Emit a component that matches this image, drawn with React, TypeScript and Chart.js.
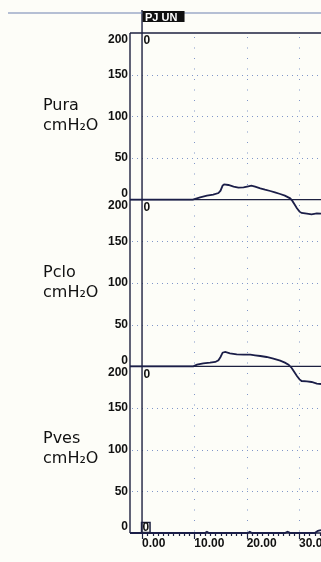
import { useEffect, useRef } from 'react';
import { Chart, registerables } from 'chart.js';

Chart.register(...registerables);

// ---- data ----
const panelNames = ['Pura', 'Pclo', 'Pves'];
const unitLabel = 'cmH₂O';
const channelTag = 'PJ UN';
const xMin = -2.3;
const xMax = 34.2;
const yMin = 0;
const yMax = 200;
const yStep = 50;
const xStep = 10;

const puraTime = [-2.3, 9.7, 11.1, 12.4, 13.6, 14.6, 15.0, 15.4, 15.7, 16.5, 17.5, 18.4, 19.4, 20.3, 20.9, 21.6, 22.6, 23.5, 24.5, 25.4, 26.4, 27.3, 28.3, 28.7, 29.1, 29.6, 30.1, 30.5, 31.5, 32.4, 33.4, 34.2];
const puraValues = [0, 0, 2.8, 4.8, 6.0, 8.0, 10.8, 16.8, 18.4, 17.6, 15.6, 14.4, 14.8, 16.0, 16.8, 15.6, 13.6, 12.0, 10.4, 8.8, 6.8, 4.8, 1.6, -1.2, -5.2, -10.4, -14.4, -16.0, -16.8, -17.6, -16.4, -16.8];

const pcloTime = [-2.3, 9.8, 10.5, 11.7, 13.0, 14.0, 14.6, 15.0, 15.4, 15.9, 16.8, 18.1, 19.4, 20.7, 21.6, 22.6, 23.8, 25.1, 26.4, 27.3, 28.0, 28.6, 29.1, 29.6, 30.1, 30.5, 31.5, 32.4, 33.4, 34.2];
const pcloValues = [0, 0, 2.0, 3.6, 4.4, 5.2, 7.2, 11.2, 16.4, 17.2, 15.6, 14.4, 14.0, 14.0, 13.2, 12.4, 11.2, 9.2, 6.8, 4.4, 2.0, -2.0, -6.8, -11.6, -15.6, -17.6, -18.0, -18.8, -20.8, -21.2];

const pvesTime = [-2.3, 12.0, 12.4, 12.8, 20.2, 20.6, 21.0, 27.3, 27.8, 28.4, 33.0, 33.6, 34.2];
const pvesValues = [0, 0, 1.5, 0, 0, 1.5, 0, 0, 1.5, 0, 0, 2.5, 3.5];

// ---- styles ----
const BG = '#fdfdf8';
const AXIS = '#1d2040';
const TRACE = '#1b1e48';
const DOTS = '#8196c8';
const TEXT = '#111111';
const TICK_FONT = 'bold 12px "Liberation Sans", Arial, sans-serif';
const NAME_FONT = '16px "DejaVu Sans", sans-serif';

const toPoints = (xs: number[], ys: number[]) => xs.map((x, i) => ({ x, y: ys[i] }));

const decorPlugin = {
  id: 'decor',
  beforeDatasetsDraw(chart: any) {
    const ctx = chart.ctx as CanvasRenderingContext2D;
    const area = chart.chartArea;
    const xs = chart.scales.x;
    const panels = [chart.scales.yUra, chart.scales.yClo, chart.scales.yVes];
    ctx.save();
    // dotted grid
    ctx.strokeStyle = DOTS;
    ctx.lineWidth = 1;
    ctx.setLineDash([1, 4]);
    panels.forEach((ys: any) => {
      ys.ticks.forEach((t: any) => {
        if (t.value === yMin || t.value === yMax) return;
        const py = Math.round(ys.getPixelForValue(t.value)) + 0.5;
        ctx.beginPath();
        ctx.moveTo(area.left + 2, py);
        ctx.lineTo(area.right, py);
        ctx.stroke();
      });
    });
    ctx.setLineDash([1, 9.5]);
    xs.ticks.forEach((t: any) => {
      if (t.value === 0) return;
      const px = Math.round(xs.getPixelForValue(t.value)) + 0.5;
      ctx.beginPath();
      ctx.moveTo(px, area.top + 4);
      ctx.lineTo(px, area.bottom);
      ctx.stroke();
    });
    ctx.setLineDash([]);
    // solid lines
    ctx.strokeStyle = AXIS;
    ctx.lineWidth = 1.4;
    const hline = (py: number) => {
      ctx.beginPath();
      ctx.moveTo(area.left, py);
      ctx.lineTo(area.right, py);
      ctx.stroke();
    };
    hline(panels[0].getPixelForValue(yMax));
    panels.forEach((ys: any) => hline(ys.getPixelForValue(0)));
    ctx.beginPath();
    ctx.moveTo(area.left, area.top);
    ctx.lineTo(area.left, area.bottom);
    ctx.stroke();
    const x0 = xs.getPixelForValue(0);
    ctx.beginPath();
    ctx.moveTo(x0, 10);
    ctx.lineTo(x0, area.bottom);
    ctx.stroke();
    // x ticks (minor every unit, major every 10)
    ctx.lineWidth = 1.2;
    for (let v = 0; v <= Math.floor(xMax); v++) {
      const px = Math.round(xs.getPixelForValue(v)) + 0.5;
      const len = v % xStep === 0 ? 6 : 3;
      ctx.beginPath();
      ctx.moveTo(px, area.bottom);
      ctx.lineTo(px, area.bottom + len);
      ctx.stroke();
    }
    ctx.restore();
  },
  afterDraw(chart: any) {
    const ctx = chart.ctx as CanvasRenderingContext2D;
    const area = chart.chartArea;
    const xs = chart.scales.x;
    const panels = [chart.scales.yUra, chart.scales.yClo, chart.scales.yVes];
    const x0 = xs.getPixelForValue(0);
    ctx.save();
    // scan line at the top
    ctx.strokeStyle = 'rgba(110,130,175,0.5)';
    ctx.lineWidth = 2;
    ctx.beginPath();
    ctx.moveTo(8, 13);
    ctx.lineTo(321, 13);
    ctx.stroke();
    // channel tag
    ctx.fillStyle = '#111';
    ctx.fillRect(x0 + 0.5, 11, 42, 11);
    ctx.save();
    ctx.beginPath();
    ctx.rect(x0 + 0.5, 11, 42, 11);
    ctx.clip();
    ctx.fillStyle = '#ffffff';
    ctx.font = 'bold 11px "Liberation Sans", Arial, sans-serif';
    ctx.textAlign = 'left';
    ctx.textBaseline = 'alphabetic';
    ctx.fillText(channelTag, x0 + 3, 21);
    ctx.restore();

    ctx.fillStyle = TEXT;
    panels.forEach((ys: any, i: number) => {
      const top = ys.getPixelForValue(yMax);
      const bottom = ys.getPixelForValue(yMin);
      // y tick labels
      ctx.font = TICK_FONT;
      ctx.textAlign = 'right';
      ctx.textBaseline = 'middle';
      ys.ticks.forEach((t: any) => {
        let py = ys.getPixelForValue(t.value);
        if (t.value === yMax) py = top + 6.5;
        else if (t.value === yMin) py = bottom - 6;
        ctx.fillText(String(t.value), 128, py);
      });
      // "0" marker at the panel top
      ctx.textAlign = 'left';
      ctx.textBaseline = 'top';
      ctx.fillText('0', x0 + 1.5, top + 2);
      // panel names
      ctx.font = NAME_FONT;
      ctx.textBaseline = 'alphabetic';
      ctx.fillText(panelNames[i], 43, top + 77);
      ctx.fillText(unitLabel, 43, top + 97);
    });
    // boxed 0 at the bottom
    ctx.strokeStyle = AXIS;
    ctx.lineWidth = 1.5;
    ctx.strokeRect(x0 - 0.5, area.bottom - 10.5, 8.5, 10);
    ctx.font = TICK_FONT;
    ctx.textAlign = 'center';
    ctx.textBaseline = 'middle';
    ctx.fillText('0', x0 + 3.8, area.bottom - 5);
    ctx.restore();
  },
};

const yScale = () => ({
  type: 'linear' as const,
  position: 'left' as const,
  stack: 'panels',
  stackWeight: 1,
  min: yMin,
  max: yMax,
  ticks: { display: false, stepSize: yStep },
  grid: { display: false, drawTicks: false },
  border: { display: false },
  afterFit: (s: any) => {
    s.width = 130;
    s.paddingTop = 0;
    s.paddingBottom = 0;
  },
});

export default function App() {
  const ref = useRef<HTMLCanvasElement>(null);
  useEffect(() => {
    if (!ref.current) return;
    const line = (data: { x: number; y: number }[], yAxisID: string, label: string) => ({
      label,
      data,
      yAxisID,
      xAxisID: 'x',
      borderColor: TRACE,
      borderWidth: 1.8,
      pointRadius: 0,
      tension: 0,
      fill: false,
      clip: false as any,
    });
    const chart = new Chart(ref.current, {
      type: 'line',
      data: {
        datasets: [
          line(toPoints(puraTime, puraValues), 'yUra', panelNames[0]),
          line(toPoints(pcloTime, pcloValues), 'yClo', panelNames[1]),
          line(toPoints(pvesTime, pvesValues), 'yVes', panelNames[2]),
        ],
      },
      options: {
        animation: false,
        responsive: false,
        devicePixelRatio: 1,
        parsing: false as any,
        layout: { padding: { top: 33, left: 0, right: 0, bottom: 0 } },
        plugins: { legend: { display: false }, tooltip: { enabled: false } },
        scales: {
          x: {
            type: 'linear',
            position: 'bottom',
            min: xMin,
            max: xMax,
            grid: { display: false, drawTicks: false },
            border: { display: false },
            ticks: {
              stepSize: xStep,
              includeBounds: false,
              align: 'start',
              maxRotation: 0,
              autoSkip: false,
              padding: 3,
              color: TEXT,
              font: { family: '"Liberation Sans", Arial, sans-serif', size: 12, weight: 'bold' },
              callback: (v: any) => Number(v).toFixed(2),
            },
            afterFit: (s: any) => {
              s.height = 29;
              s.paddingLeft = 0;
              s.paddingRight = 0;
            },
          } as any,
          yVes: yScale() as any,
          yClo: yScale() as any,
          yUra: yScale() as any,
        },
      },
      plugins: [decorPlugin],
    });
    return () => chart.destroy();
  }, []);
  return (
    <div style={{ position: 'fixed', left: 0, top: 0, width: 321, height: 562, background: BG, overflow: 'hidden' }}>
      <canvas ref={ref} width={321} height={562} style={{ display: 'block', width: 321, height: 562 }} />
    </div>
  );
}
